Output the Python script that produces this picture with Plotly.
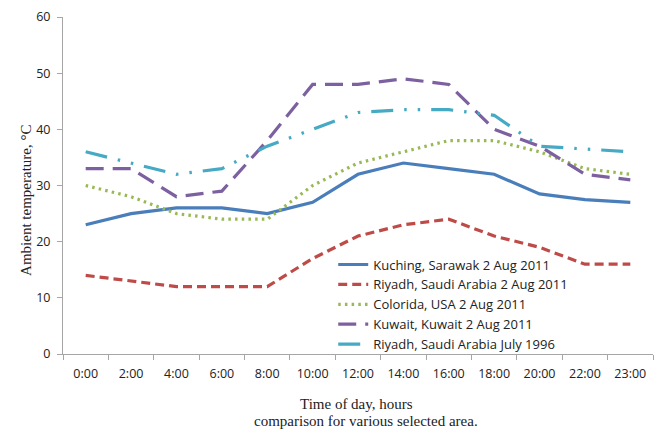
import plotly.graph_objects as go

hours = ["0:00", "2:00", "4:00", "6:00", "8:00", "10:00", "12:00", "14:00",
         "16:00", "18:00", "20:00", "22:00", "23:00"]

kuching_2011 = [23, 25, 26, 26, 25, 27, 32, 34, 33, 32, 28.5, 27.5, 27]
riyadh_2011 = [14, 13, 12, 12, 12, 17, 21, 23, 24, 21, 19, 16, 16]
colorida_2011 = [30, 28, 25, 24, 24, 30, 34, 36, 38, 38, 36, 33, 32]
kuwait_2011 = [33, 33, 28, 29, 38, 48, 48, 49, 48, 40, 37, 32, 31]
riyadh_1996 = [36, 34, 32, 33, 37, 40, 43, 43.5, 43.5, 42.5, 37, 36.5, 36]

series = [
    ("Kuching, Sarawak 2 Aug 2011", kuching_2011, "#4A7EBB", "solid", 3.2),
    ("Riyadh, Saudi Arabia 2 Aug 2011", riyadh_2011, "#BE4B48", "9px,5px", 3.2),
    ("Colorida, USA 2 Aug 2011", colorida_2011, "#98B954", "2.5px,4.2px", 3.2),
    ("Kuwait, Kuwait 2 Aug 2011", kuwait_2011, "#7D60A0", "18px,9px", 3.2),
    ("Riyadh, Saudi Arabia July 1996", riyadh_1996, "#46AAC5", "22px,11px,2.5px,11px,2.5px,11px", 3.2),
]

fig = go.Figure()
for i, (name, vals, color, dash, w) in enumerate(series):
    fig.add_trace(go.Scatter(
        x=hours, y=vals, mode="lines", name=name,
        line=dict(color=color, dash=dash, width=w),
        legendgroup=f"g{i}",
    ))

fig.update_layout(
    width=661, height=433,
    margin=dict(l=63, r=8, t=13, b=79),
    paper_bgcolor="white", plot_bgcolor="white",
    font=dict(family="Open Sans", size=12, color="#404040"),
    showlegend=True,
    legend=dict(
        x=0.458, y=0.31, xanchor="left", yanchor="top",
        bgcolor="rgba(0,0,0,0)", font=dict(family="Open Sans", size=13, color="#222222"),
        tracegroupgap=0, itemwidth=30,
    ),
    xaxis=dict(
        type="category", range=[-0.5, 12.5], showgrid=False, showline=True,
        linecolor="#A6A6A6", linewidth=1,
        ticks="outside", tickson="boundaries", ticklen=5, tickcolor="#A6A6A6",
        tickfont=dict(family="Open Sans", size=12.5, color="#222222"),
        ticklabelstandoff=8,
    ),
    yaxis=dict(
        range=[0, 60], dtick=10, showgrid=False, showline=True, linecolor="#A6A6A6",
        linewidth=1, ticks="outside", ticklen=5, tickcolor="#A6A6A6",
        tickfont=dict(family="Open Sans", size=12.5, color="#222222"),
        ticklabelstandoff=4, zeroline=False,
    ),
    annotations=[
        dict(text="Ambient temperature, °C", xref="paper", yref="paper",
             x=-0.064, y=0.455, textangle=-90, showarrow=False, xanchor="center", yanchor="middle",
             font=dict(family="Liberation Serif", size=15, color="#222222")),
        dict(text="Time of day, hours", xref="paper", yref="paper",
             x=0.498, y=-0.147, showarrow=False, xanchor="center", yanchor="middle",
             font=dict(family="Liberation Serif", size=15, color="#222222")),
        dict(text="comparison for various selected area.", xref="paper", yref="paper",
             x=0.513, y=-0.2, showarrow=False, xanchor="center", yanchor="middle",
             font=dict(family="Liberation Serif", size=15, color="#222222")),
    ],
)

fig.write_html("out.html")
